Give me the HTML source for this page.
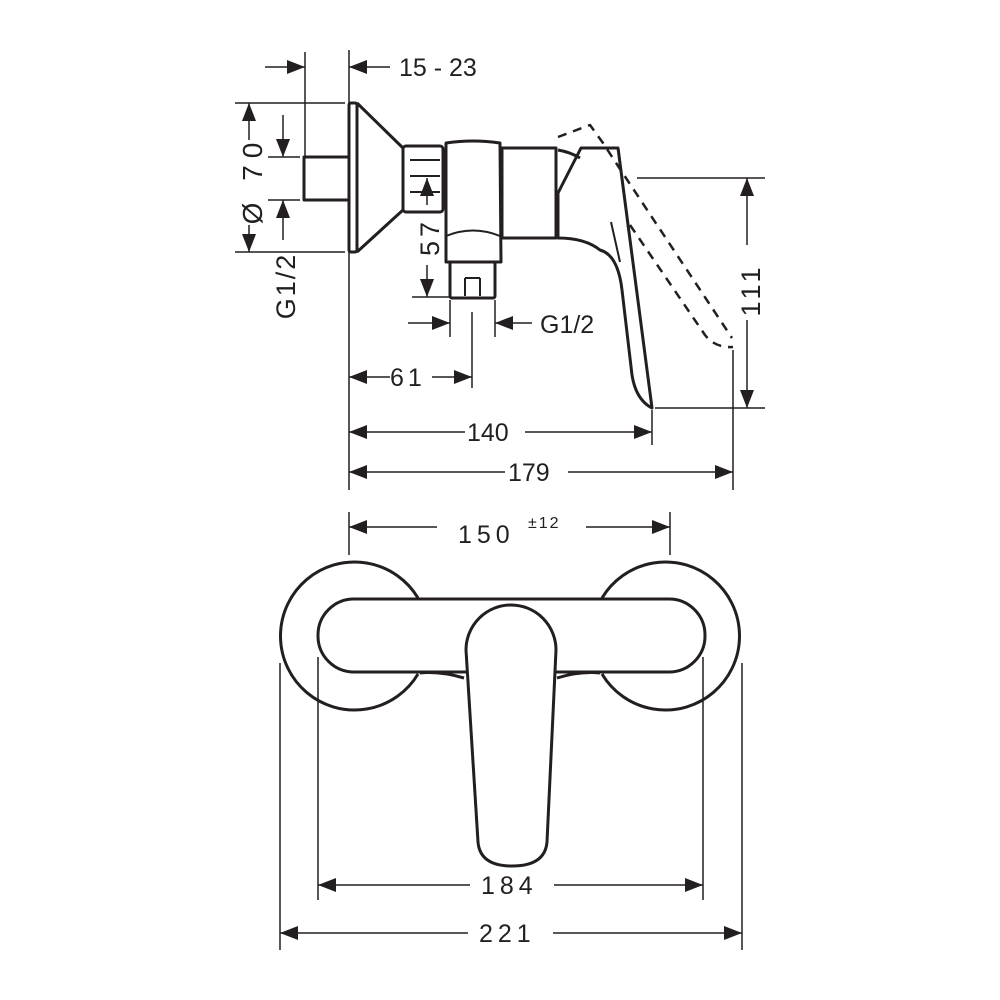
<!DOCTYPE html>
<html><head><meta charset="utf-8"><style>
html,body{margin:0;padding:0;background:#fff;}
svg{display:block}
text{font-family:"Liberation Sans",sans-serif;fill:#231f20}
</style></head><body>
<svg width="1000" height="1000" viewBox="0 0 1000 1000" xmlns="http://www.w3.org/2000/svg">
<defs>
<marker id="a" viewBox="0 0 18 14" refX="18" refY="7" markerWidth="18" markerHeight="14" markerUnits="userSpaceOnUse" orient="auto-start-reverse">
<path d="M0,0 L18,7 L0,14 Z" fill="#231f20"/></marker>
</defs>
<g stroke="#231f20" stroke-width="1.5" fill="none">
<line x1="305" y1="52" x2="305" y2="157"/>
<line x1="349" y1="50" x2="349" y2="490"/>
<line x1="235" y1="103" x2="345" y2="103"/>
<line x1="235" y1="252" x2="345" y2="252"/>
<line x1="268" y1="157" x2="300" y2="157"/>
<line x1="268" y1="200" x2="300" y2="200"/>
<line x1="412" y1="297" x2="450" y2="297"/>
<line x1="450" y1="300" x2="450" y2="337"/>
<line x1="495" y1="300" x2="495" y2="337"/>
<line x1="472" y1="312" x2="472" y2="388"/>
<line x1="637" y1="178" x2="765" y2="178"/>
<line x1="655" y1="408" x2="765" y2="408"/>
<line x1="652" y1="410" x2="652" y2="445"/>
<line x1="733" y1="350" x2="733" y2="490"/>
<line x1="265" y1="67" x2="305" y2="67" marker-end="url(#a)"/>
<line x1="390" y1="67" x2="349" y2="67" marker-end="url(#a)"/>
<line x1="249" y1="140" x2="249" y2="103" marker-end="url(#a)"/>
<line x1="249" y1="225" x2="249" y2="252" marker-end="url(#a)"/>
<line x1="283" y1="115" x2="283" y2="157" marker-end="url(#a)"/>
<line x1="283" y1="240" x2="283" y2="200" marker-end="url(#a)"/>
<line x1="427" y1="205" x2="427" y2="178" marker-end="url(#a)"/>
<line x1="427" y1="265" x2="427" y2="297" marker-end="url(#a)"/>
<line x1="408" y1="323" x2="450" y2="323" marker-end="url(#a)"/>
<line x1="532" y1="323" x2="495" y2="323" marker-end="url(#a)"/>
<line x1="390" y1="377" x2="349" y2="377" marker-end="url(#a)"/>
<line x1="432" y1="377" x2="472" y2="377" marker-end="url(#a)"/>
<line x1="465" y1="432" x2="349" y2="432" marker-end="url(#a)"/>
<line x1="525" y1="432" x2="652" y2="432" marker-end="url(#a)"/>
<line x1="505" y1="472" x2="349" y2="472" marker-end="url(#a)"/>
<line x1="568" y1="472" x2="733" y2="472" marker-end="url(#a)"/>
<line x1="747" y1="245" x2="747" y2="178" marker-end="url(#a)"/>
<line x1="747" y1="320" x2="747" y2="408" marker-end="url(#a)"/>
<line x1="349" y1="512" x2="349" y2="555"/>
<line x1="670" y1="512" x2="670" y2="555"/>
<line x1="437" y1="527" x2="349" y2="527" marker-end="url(#a)"/>
<line x1="586" y1="527" x2="670" y2="527" marker-end="url(#a)"/>
<line x1="280" y1="663" x2="280" y2="950"/>
<line x1="318" y1="657" x2="318" y2="900"/>
<line x1="703" y1="657" x2="703" y2="900"/>
<line x1="742" y1="663" x2="742" y2="950"/>
<line x1="470" y1="885" x2="318" y2="885" marker-end="url(#a)"/>
<line x1="554" y1="885" x2="703" y2="885" marker-end="url(#a)"/>
<line x1="468" y1="933" x2="280" y2="933" marker-end="url(#a)"/>
<line x1="553" y1="933" x2="742" y2="933" marker-end="url(#a)"/>
</g>
<g stroke="#231f20" stroke-width="3" fill="none" stroke-linejoin="round">
<rect x="304" y="157" width="45" height="43"/>
<rect x="349" y="103" width="8" height="149" rx="2"/>
<path d="M357,103 L403,148 L403,210 L357,252"/>
<rect x="403" y="146" width="40" height="66" rx="3"/>
<line x1="410" y1="160" x2="440" y2="160" stroke-width="2"/>
<line x1="410" y1="176" x2="440" y2="176" stroke-width="2"/>
<line x1="410" y1="192" x2="440" y2="192" stroke-width="2"/>
<path d="M446,143 Q473,139 500,143 L501,262 L446,262 Z"/>
<path d="M446,236 Q473,225 500,236" stroke-width="2"/>
<rect x="450" y="262" width="45" height="36" rx="2"/>
<line x1="465" y1="278" x2="480" y2="278" stroke-width="2"/>
<line x1="465" y1="278" x2="465" y2="296" stroke-width="2"/>
<line x1="480" y1="278" x2="480" y2="296" stroke-width="2"/>
<rect x="502" y="148" width="54" height="90"/>
<path d="M558,150 Q570,152 580,158"/>
<path d="M558,193 L581,148 L618,148 L652,408 Q636,400 632,375 L622,290 Q618,255 600,250 Q585,238 558,238 Z"/>
<path d="M611,222 L620,262" stroke-width="2"/>
<path d="M619,150 L628,230" stroke-width="1.5"/>
<path d="M558,137 L590,125 L603,143 L622,172 L732,338" stroke-dasharray="9,7" stroke-width="2.5"/>
<path d="M630,225 L705,335 Q715,348 733,347" stroke-dasharray="9,7" stroke-width="2.5"/>
<path d="M418,598 A74,74 0 1 0 418,674"/>
<path d="M602,598 A74,74 0 1 1 602,674"/>
<rect x="318" y="599" width="387" height="73" rx="36"/>
<path d="M464,678 Q440,671 420,673" />
<path d="M557,678 Q580,671 600,673" />
<path d="M466,650 A45,45 0 0 1 556,650 L547,842 Q545,866 512,866 Q480,866 478,842 Z" fill="#fff"/>
</g>
<g font-size="25">
<text x="399" y="76">15 - 23</text>
<text x="540" y="333">G1/2</text>
<text x="390" y="386" letter-spacing="4">61</text>
<text x="467" y="441">140</text>
<text x="508" y="481">179</text>
<text x="458" y="543" letter-spacing="5">150</text>
<text x="528" y="528" font-size="16" letter-spacing="2">±12</text>
<text x="481" y="894" letter-spacing="5">184</text>
<text x="479" y="942" letter-spacing="5">221</text>
<text transform="translate(262,180) rotate(-90)" text-anchor="middle" letter-spacing="7" font-size="28">Ø 70</text>
<text transform="translate(295,286) rotate(-90)" text-anchor="middle" letter-spacing="2" font-size="27">G1/2</text>
<text transform="translate(439,237) rotate(-90)" text-anchor="middle" letter-spacing="4" font-size="27">57</text>
<text transform="translate(760,290) rotate(-90)" text-anchor="middle" letter-spacing="4" font-size="27">111</text>
</g>
</svg>
</body></html>
